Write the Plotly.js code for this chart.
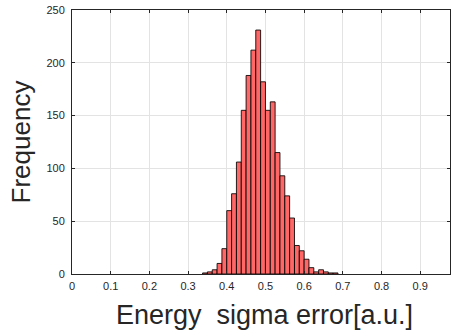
<!DOCTYPE html>
<html>
<head>
<meta charset="utf-8">
<script src="https://cdn.plot.ly/plotly-3.0.1.min.js"></script>
<style>html,body{margin:0;padding:0;background:#fff;}#chart{width:451px;height:331px;}</style>
</head>
<body>
<div id="chart"></div>
<script>
// Histogram bins (left edges) and counts
const binLeftEdges = [0.3375, 0.35, 0.3625, 0.375, 0.3875, 0.4, 0.4125, 0.425, 0.4375, 0.45,
  0.4625, 0.475, 0.4875, 0.5, 0.5125, 0.525, 0.5375, 0.55, 0.5625, 0.575,
  0.5875, 0.6, 0.6125, 0.625, 0.6375, 0.65, 0.6625, 0.675];
const counts = [1, 2, 4, 10, 24, 60, 76, 106, 155, 188,
  212, 231, 182, 155, 163, 115, 93, 74, 53, 27,
  22, 14, 6, 2, 4, 2, 1, 1];
const binWidth = 0.0125;
const xTicks = [0, 0.1, 0.2, 0.3, 0.4, 0.5, 0.6, 0.7, 0.8, 0.9];
const xTickLabels = ['0', '0.1', '0.2', '0.3', '0.4', '0.5', '0.6', '0.7', '0.8', '0.9'];
const yTicks = [0, 50, 100, 150, 200, 250];
const yTickLabels = ['0', '50', '100', '150', '200', '250'];
const xTitle = 'Energy\u00a0 sigma error[a.u.]';
const yTitle = 'Frequency';

const trace = {
  type: 'bar',
  x: binLeftEdges,
  y: counts,
  width: binLeftEdges.map(() => binWidth),
  offset: 0,
  marker: {color: 'rgb(255,102,102)', line: {color: 'rgba(0,0,0,0.85)', width: 1}},
  hoverinfo: 'x+y'
};

const FONT = 'Liberation Sans, Arial, sans-serif';
const axisCommon = {
  showline: true, linecolor: '#262626', linewidth: 1, mirror: 'ticks',
  ticks: 'inside', ticklen: 3, tickcolor: '#262626', tickwidth: 1,
  showgrid: true, gridcolor: '#e3e3e3', gridwidth: 1, zeroline: false,
  tickfont: {family: FONT, size: 11, color: '#262626'},
  automargin: false, fixedrange: true
};

const layout = {
  width: 451, height: 331,
  margin: {l: 72, r: 1, t: 10, b: 57},
  paper_bgcolor: '#fff', plot_bgcolor: '#fff',
  showlegend: false,
  bargap: 0,
  xaxis: Object.assign({}, axisCommon, {
    range: [0, 0.977], tickvals: xTicks, ticktext: xTickLabels,
    ticklabelstandoff: 2
  }),
  yaxis: Object.assign({}, axisCommon, {
    range: [0, 250], tickvals: yTicks, ticktext: yTickLabels,
    ticklabelstandoff: 4,
    title: {text: yTitle, standoff: 8,
      font: {family: FONT, size: 26, color: '#262626'}}
  }),
  annotations: [{
    text: xTitle, xref: 'paper', yref: 'paper', x: 0.51, y: 0,
    xanchor: 'center', yanchor: 'top', yshift: -24, showarrow: false,
    font: {family: FONT, size: 27, color: '#262626'}
  }]
};

Plotly.newPlot('chart', [trace], layout, {displayModeBar: false, staticPlot: true});
</script>
</body>
</html>
